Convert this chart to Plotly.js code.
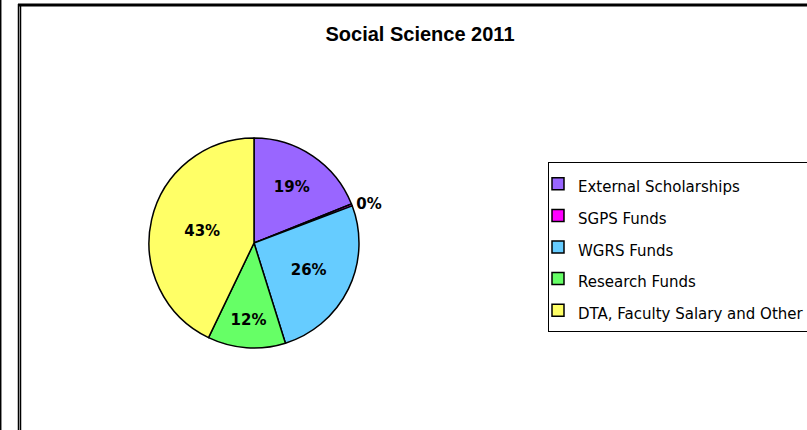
<!DOCTYPE html>
<html>
<head>
<meta charset="utf-8">
<script src="https://cdn.plot.ly/plotly-3.0.1.min.js"></script>
<style>html,body{margin:0;padding:0;background:#fff;}#chart{width:807px;height:430px;}</style>
</head>
<body>
<div id="chart"></div>
<script>
const chartTitle = "Social Science 2011";
const categories = ["External Scholarships", "SGPS Funds", "WGRS Funds", "Research Funds", "DTA, Faculty Salary and Other"];
const shares = [19, 0.3, 26, 12, 43];
const sliceColors = ["#9966FF", "#FF00FF", "#66CCFF", "#66FF66", "#FFFF66"];
const labelPositions = ["inside", "outside", "inside", "inside", "inside"];

const W = 807, H = 430;
const cx = 254, cy = 243, r = 105;

const trace = {
  type: "pie",
  labels: categories.map(c => '<span style="font-size:15px">' + c + '</span>'),
  values: shares,
  sort: false,
  direction: "clockwise",
  rotation: 0,
  marker: { colors: sliceColors, line: { color: "#000", width: 1.5 } },
  texttemplate: "%{percent:.0%}",
  textposition: labelPositions,
  insidetextorientation: "horizontal",
  textfont: { family: "DejaVu Sans", size: 15, color: "#000", weight: "bold" },
  outsidetextfont: { family: "DejaVu Sans", size: 15, color: "#000", weight: "bold" },
  domain: { x: [(cx - r) / W, (cx + r) / W], y: [(H - cy - r) / H, (H - cy + r) / H] },
  hoverinfo: "label+percent"
};

const line = (x0, y0, x1, y1, w) => ({ type: "line", xref: "paper", yref: "paper",
  x0: x0 / W, x1: x1 / W, y0: 1 - y0 / H, y1: 1 - y1 / H, line: { color: "#000", width: w } });

const layout = {
  width: W, height: H,
  margin: { l: 0, r: 0, t: 0, b: 0, autoexpand: false },
  paper_bgcolor: "#fff",
  font: { family: "DejaVu Sans", color: "#000" },
  title: { text: chartTitle, x: 420 / W, xanchor: "center", y: 1 - 34 / H, yanchor: "middle",
    font: { family: "Liberation Sans", size: 20, weight: "bold", color: "#000" } },
  showlegend: true,
  legend: { x: 548 / W, xanchor: "left", y: 1 - 162 / H, yanchor: "top",
    indentation: -11,
    bordercolor: "#000", borderwidth: 1, bgcolor: "#fff",
    font: { family: "DejaVu Sans", size: 22, color: "#000" } },
  shapes: [
    line(0.7, 0, 0.7, H, 1.5),
    line(18.5, 4, 18.5, H, 1.5),
    line(20.5, 6, 20.5, H, 1.5),
    line(18, 5, W, 5, 3)
  ]
};

Plotly.newPlot("chart", [trace], layout, { displayModeBar: false, staticPlot: true });
</script>
</body>
</html>
